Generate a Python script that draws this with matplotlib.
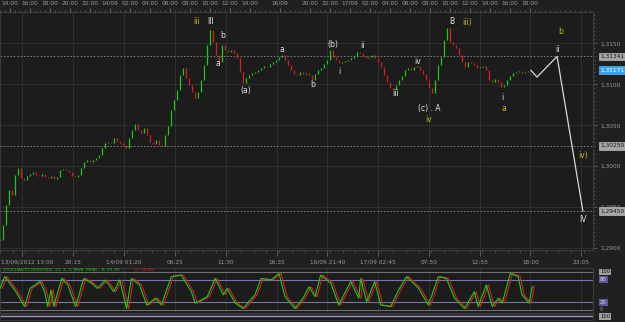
import numpy as np
import matplotlib.pyplot as plt
from matplotlib.ticker import FuncFormatter, MultipleLocator
from matplotlib.transforms import ScaledTranslation

# EUR/USD closes, one per bar
closes = [
    1.2910, 1.2928, 1.2952, 1.2971, 1.2965, 1.2989, 1.2998, 1.2986, 1.2983, 1.2988,
    1.2990, 1.2993, 1.2989, 1.2988, 1.2990, 1.2987, 1.2986, 1.2988, 1.2984, 1.2987,
    1.2995, 1.2997, 1.2995, 1.2993, 1.2988, 1.2987, 1.2989, 1.2998, 1.3005, 1.3008,
    1.3005, 1.3008, 1.3010, 1.3014, 1.3022, 1.3028, 1.3030, 1.3028, 1.3034, 1.3031,
    1.3028, 1.3026, 1.3022, 1.3034, 1.3044, 1.3052, 1.3044, 1.3041, 1.3047, 1.3038,
    1.3030, 1.3027, 1.3032, 1.3026, 1.3025, 1.3038, 1.3049, 1.3069, 1.3081, 1.3093,
    1.3111, 1.3120, 1.3108, 1.3099, 1.3091, 1.3083, 1.3091, 1.3105, 1.3124, 1.3148,
    1.3167, 1.3152, 1.3136, 1.3127, 1.3148, 1.3142, 1.3140, 1.3142, 1.3138, 1.3132,
    1.3115, 1.3102, 1.3108, 1.3111, 1.3114, 1.3115, 1.3118, 1.3120, 1.3122, 1.3121,
    1.3125, 1.3127, 1.3130, 1.3133, 1.3136, 1.3130, 1.3124, 1.3118, 1.3113, 1.3111,
    1.3115, 1.3113, 1.3114, 1.3111, 1.3105, 1.3113, 1.3118, 1.3120, 1.3125, 1.3130,
    1.3142, 1.3133, 1.3130, 1.3126, 1.3127, 1.3129, 1.3130, 1.3132, 1.3135, 1.3140,
    1.3138, 1.3135, 1.3132, 1.3133, 1.3136, 1.3132, 1.3127, 1.3121, 1.3111, 1.3103,
    1.3096, 1.3093, 1.3099, 1.3105, 1.3110, 1.3118, 1.3120, 1.3118, 1.3121, 1.3122,
    1.3118, 1.3113, 1.3105, 1.3096, 1.3090, 1.3105, 1.3124, 1.3133, 1.3154, 1.3169,
    1.3152, 1.3148, 1.3145, 1.3136, 1.3127, 1.3121, 1.3127, 1.3126, 1.3124, 1.3120,
    1.3121, 1.3122, 1.3118, 1.3105, 1.3103, 1.3107, 1.3103, 1.3097, 1.3099, 1.3105,
    1.3110, 1.3114, 1.3115, 1.3116, 1.3114, 1.3115, 1.3116, 1.3117,
]

# projected wave path (bar, price)
wave_bar = [177.0, 179.0, 185.7, 194.3]
wave_price = [1.3117, 1.3109, 1.31341, 1.29450]

levels = [1.31341, 1.30250, 1.29450]
last_price = 1.31171
price_ticks = [1.2900, 1.2950, 1.3000, 1.3050, 1.3100, 1.3150]

bottom_labels = ["13/09/2012 13:00", "20:15", "14/09 01:20", "06:25", "11:30", "16:35",
                 "16/09 21:40", "17/09 02:45", "07:50", "12:55", "18:00", "23:05"]
bottom_bars = [7.5, 24.4, 41.4, 58.3, 75.2, 92.2, 109.1, 126.0, 143.0, 159.9, 176.8, 193.8]

top_labels = ["14:00", "16:00", "18:00", "20:00", "22:00", "14/09", "02:00", "04:00",
              "06:00", "08:00", "10:00", "12:00", "14:00", "16/09", "20:00", "22:00",
              "17/09", "02:00", "04:00", "06:00", "08:00", "10:00", "12:00", "14:00",
              "16:00", "18:00"]
top_bars = [3.3, 10.0, 16.7, 23.3, 30.0, 36.7, 43.3, 50.0, 56.7, 63.3, 70.0, 76.7, 83.3,
            93.3, 103.3, 110.0, 116.7, 123.3, 130.0, 136.7, 143.3, 150.0, 156.7, 163.3,
            170.0, 176.7]

# stochastic %K turning points (bar, value)
stoch_bar = [0, 1.6, 5.3, 8.2, 10.0, 13.3, 14.9, 15.9, 17.0, 17.9, 20.6, 22.6, 23.6, 25.2,
             27.9, 30.6, 32.5, 35.2, 37.9, 39.9, 42.2, 43.8, 46.5, 48.9, 51.8, 53.8, 57.1,
             60.4, 63.8, 65.1, 69.1, 71.7, 74.4, 75.7, 78.4, 81.0, 85.0, 87.0, 90.3, 93.0,
             95.0, 98.3, 101.0, 103.0, 105.0, 106.9, 110.3, 112.9, 116.9, 119.6, 120.2,
             122.2, 124.9, 126.9, 130.2, 132.9, 135.5, 139.5, 142.8, 146.1, 148.8, 151.5,
             154.8, 158.1, 159.4, 162.1, 164.1, 166.1, 167.4, 170.1, 172.7, 174.0, 176.4,
             177.4]
stoch_k = [57, 88, 48, 9, 57, 75, 48, 9, 53, 9, 83, 66, 44, 9, 83, 70, 57, 79, 48, 79, 4,
           83, 66, 13, 31, 13, 88, 92, 48, 18, 35, 83, 40, 57, 18, 4, 40, 83, 79, 96, 35, 4,
           31, 61, 35, 92, 70, 13, 75, 31, 83, 22, 75, 13, 9, 53, 88, 57, 13, 88, 83, 31, 4,
           48, 9, 66, 9, 31, 18, 96, 88, 40, 18, 62]

# wave count labels: text, x px, y px, colour
wave_labels = [
    ("iii", 197, 22, "y"), ("III", 211, 22, "w"), ("b", 223, 36, "w"), ("a", 218, 64, "w"),
    ("(a)", 246, 91, "w"), ("a", 282, 49, "w"), ("b", 313, 84, "w"), ("(b)", 333, 45, "w"),
    ("i", 339, 71, "w"), ("ii", 362, 46, "w"), ("iii", 396, 94, "w"), ("iv", 418, 62, "w"),
    ("(c) . A", 429, 108, "w"), ("iv", 429, 119, "y"), ("B", 452, 22, "w"),
    ("iii)", 467, 22, "y"), ("i", 502, 98, "w"), ("a", 504, 109, "y"), ("b", 561, 32, "y"),
    ("ii", 557, 49, "w"), ("iv)", 583, 155, "y"), ("IV", 583, 220, "w"),
]

BG = "#1c1c1c"
GRID = "#2e2e2e"
TXT = "#9a9a9a"
GREEN = "#1ec81e"
RED = "#d42020"
YEL = "#c8b414"
W, H = 625, 322

fig = plt.figure(figsize=(W / 100, H / 100), dpi=100, facecolor="#202020")

ax = fig.add_axes([0, 1 - 250 / H, 593 / W, 238 / H], facecolor=BG)
ax.set_xlim(0, 197.67)
ax.set_ylim(1.28975, 1.31885)

c = np.array(closes)
o = np.r_[c[0], c[:-1]]
bars = np.arange(len(c))
up = c >= o
lo = np.minimum(o, c)
hi = np.maximum(np.maximum(o, c), lo + 0.00009)
ax.vlines(bars[up], lo[up], hi[up], color=GREEN, lw=0.9, zorder=3)
ax.vlines(bars[~up], lo[~up], hi[~up], color=RED, lw=0.9, zorder=3)

ax.plot(wave_bar, wave_price, color="#d8d8d8", lw=0.9, zorder=4)

for lv in levels:
    ax.axhline(lv, color="#8a8a8a", lw=0.6, ls=(0, (2, 2)), zorder=2)

for b in bottom_bars:
    ax.axvline(b, color=GRID, lw=0.8, zorder=1)
for p in price_ticks:
    ax.axhline(p, color=GRID, lw=0.8, zorder=1)

for s in ax.spines.values():
    s.set_color("#3a3a3a")
    s.set_linewidth(0.8)

ax.yaxis.tick_right()
ax.set_yticks(price_ticks)
ax.yaxis.set_minor_locator(MultipleLocator(0.0005))
ax.yaxis.set_major_formatter(FuncFormatter(lambda v, p: f"{v:.4f}".replace(".", ",")))
ax.tick_params(axis="y", which="major", length=3, pad=2.5, labelsize=4.2,
               colors="#555555", labelcolor=TXT)
ax.tick_params(axis="y", which="minor", length=1.5, colors="#555555")

ax.set_xticks(bottom_bars)
ax.set_xticklabels(bottom_labels)
ax.xaxis.set_minor_locator(MultipleLocator(4.23))
ax.tick_params(axis="x", which="major", length=4, pad=3, labelsize=4.2,
               colors="#555555", labelcolor=TXT)
ax.tick_params(axis="x", which="minor", length=2, colors="#555555")
first = ax.get_xticklabels()[0]
first.set_ha("left")
first.set_transform(first.get_transform() + ScaledTranslation(-0.215, 0, fig.dpi_scale_trans))

axt = ax.twiny()
axt.set_xlim(ax.get_xlim())
axt.set_xticks(top_bars)
axt.set_xticklabels(top_labels)
axt.xaxis.set_minor_locator(MultipleLocator(1.667))
axt.tick_params(axis="x", which="major", length=3, pad=1.5, labelsize=4.2,
                colors="#666666", labelcolor=TXT)
axt.tick_params(axis="x", which="minor", length=1.5, colors="#555555")
for s in axt.spines.values():
    s.set_visible(False)

def price_box(y, text, fc, tc, ec):
    ax.annotate(text, xy=(1.012, y), xycoords=("axes fraction", "data"),
                ha="left", va="center", fontsize=4.2, color=tc, zorder=6,
                annotation_clip=False,
                bbox=dict(boxstyle="square,pad=0.25", fc=fc, ec=ec, lw=0.4))

for lv in levels:
    price_box(lv, f"{lv:.5f}".replace(".", ","), "#a6a6a6", "#1a1a1a", "#cfcfcf")
price_box(last_price, f"{last_price:.5f}".replace(".", ","), "#3aa2f2", "#ffffff", "#6cc0ff")

for text, px, py, col in wave_labels:
    fig.text(px / W, 1 - py / H, text, ha="center", va="center", fontsize=5.5,
             color=YEL if col == "y" else "#e2e2e2")

# stochastic panel
ax2 = fig.add_axes([0, 1 - 313 / H, 593 / W, 45 / H], facecolor=BG)
ax2.set_xlim(ax.get_xlim())
ax2.set_ylim(-7.9, 110.5)
for b in bottom_bars:
    ax2.axvline(b, color=GRID, lw=0.8, zorder=1)
for lvl, col in [(100, "#6e6e6e"), (80, "#7676aa"), (20, "#7676aa"), (0, "#6e6e6e")]:
    ax2.axhline(lvl, color=col, lw=0.8, zorder=2)
ax2.plot(np.array(stoch_bar) + 0.7, stoch_k, color=RED, lw=0.8, zorder=3)
ax2.plot(stoch_bar, stoch_k, color=GREEN, lw=0.8, zorder=4)
ax2.set_xticks([])
ax2.set_yticks([])
for s in ax2.spines.values():
    s.set_color("#3a3a3a")
    s.set_linewidth(0.8)

def stoch_box(y, text, fc, tc):
    ax2.annotate(text, xy=(1.012, y), xycoords=("axes fraction", "data"),
                 ha="left", va="center", fontsize=3.8, color=tc,
                 annotation_clip=False,
                 bbox=dict(boxstyle="square,pad=0.15", fc=fc, ec="none"))

stoch_box(100, "100", "#a0a0a0", "#111111")
stoch_box(80, "80", "#5a5a96", "#d8d8f0")
stoch_box(20, "20", "#5a5a96", "#d8d8f0")
ax2.annotate("0", xy=(1.012, 0), xycoords=("axes fraction", "data"), ha="left",
             va="center", fontsize=3.8, color=TXT, annotation_clip=False)

fig.text(3 / W, 1 - 270 / H, "STOCHASTIC(EUR/USD, 13, 3, 3, MVA, MVA) - K: 61,90",
         fontsize=3.2, color=GREEN, va="center")
fig.text(135 / W, 1 - 270 / H, "D: 48,89", fontsize=3.2, color=RED, va="center")

# thin strip under the oscillator
ax3 = fig.add_axes([0, 2 / H, 593 / W, 6 / H], facecolor=BG)
ax3.set_xlim(ax.get_xlim())
ax3.set_ylim(0, 1)
ax3.axhline(0.6, color="#9a9ac8", lw=1.0)
ax3.set_xticks([])
ax3.set_yticks([])
for s in ax3.spines.values():
    s.set_color("#3a3a3a")
    s.set_linewidth(0.6)
ax3.annotate("100", xy=(1.012, 0.6), xycoords=("axes fraction", "data"), ha="left",
             va="center", fontsize=3.8, color="#111111", annotation_clip=False,
             bbox=dict(boxstyle="square,pad=0.15", fc="#a0a0a0", ec="none"))

fig.savefig("out.png", dpi=100, facecolor=fig.get_facecolor())
